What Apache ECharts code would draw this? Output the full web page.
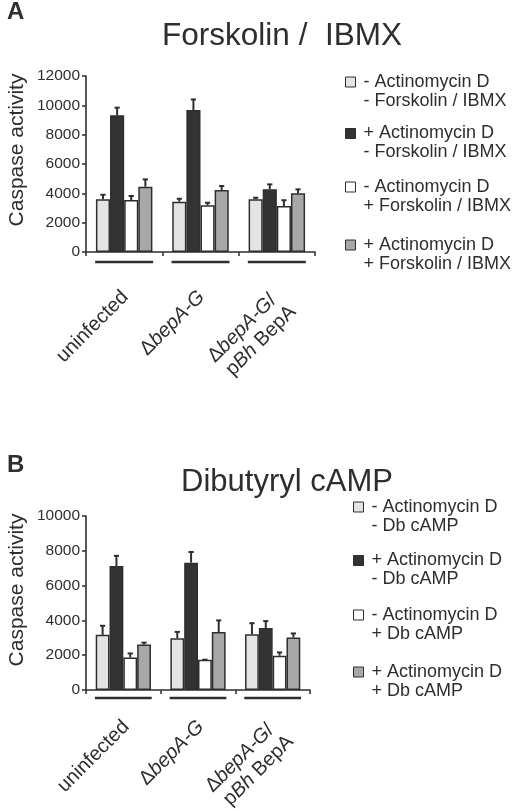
<!DOCTYPE html>
<html>
<head>
<meta charset="utf-8">
<script src="https://cdn.jsdelivr.net/npm/echarts@6/dist/echarts.min.js"></script>
<style>
html,body{margin:0;padding:0;background:#fff;}
#chart{width:515px;height:809px;}
</style>
</head>
<body>
<div id="chart"></div>
<script>
// ---- data ----
const categories = ['uninfected', 'ΔbepA-G', 'ΔbepA-G/ pBh BepA'];

const namesA = [
  '- Actinomycin D\n- Forskolin / IBMX',
  '+ Actinomycin D\n- Forskolin / IBMX',
  '- Actinomycin D\n+ Forskolin / IBMX',
  '+ Actinomycin D\n+ Forskolin / IBMX'
];
const namesB = [
  '- Actinomycin D\n- Db cAMP',
  '+ Actinomycin D\n- Db cAMP',
  '- Actinomycin D\n+ Db cAMP',
  '+ Actinomycin D\n+ Db cAMP'
];

// Panel A (Forskolin / IBMX)
const A_noActD_noFsk = [3600, 3430, 3600];
const A_actD_noFsk   = [9320, 9680, 4280];
const A_noActD_fsk   = [3540, 3180, 3140];
const A_actD_fsk     = [4450, 4230, 4000];
const A_err_noActD_noFsk = [300, 200, 100];
const A_err_actD_noFsk   = [520, 720, 330];
const A_err_noActD_fsk   = [280, 180, 390];
const A_err_actD_fsk     = [500, 270, 270];

// Panel B (Dibutyryl cAMP)
const B_noActD_noDb = [3170, 2980, 3210];
const B_actD_noDb   = [7130, 7320, 3560];
const B_noActD_db   = [1870, 1740, 1970];
const B_actD_db     = [2610, 3330, 3020];
const B_err_noActD_noDb = [520, 360, 630];
const B_err_actD_noDb   = [580, 610, 400];
const B_err_noActD_db   = [230, 0, 190];
const B_err_actD_db     = [110, 670, 230];

const yTicksA = {max: 12000, interval: 2000};
const yTicksB = {max: 10000, interval: 2000};

// ---- styling ----
const FONT = 'Liberation Sans, Arial, Helvetica, sans-serif';
const INK = '#2e2e2e';
const fills = ['#e4e4e4', '#333333', '#ffffff', '#a8a8a8'];
const GAP = 0.26;

const valsA = [A_noActD_noFsk, A_actD_noFsk, A_noActD_fsk, A_actD_fsk];
const errsA = [A_err_noActD_noFsk, A_err_actD_noFsk, A_err_noActD_fsk, A_err_actD_fsk];
const valsB = [B_noActD_noDb, B_actD_noDb, B_noActD_db, B_actD_db];
const errsB = [B_err_noActD_noDb, B_err_actD_noDb, B_err_noActD_db, B_err_actD_db];

const rich = {
  n: {fontFamily: FONT, fontSize: 20, color: INK, lineHeight: 22},
  i: {fontFamily: FONT, fontSize: 20, color: INK, fontStyle: 'italic', lineHeight: 22},
  sp: {fontSize: 2, lineHeight: 20}
};
function catLabel(v, idx) {
  if (idx === 0) return '{n|uninfected}';
  if (idx === 1) return '{n|Δ}{i|bepA-G}';
  return '{sp| }\n{n|Δ}{i|bepA-G}{n|/ }\n{n|p}{i|Bh}{n| BepA}';
}

function xAxisFor(g, margin, padTop) {
  return {
    type: 'category', gridIndex: g, data: categories,
    axisLine: {lineStyle: {color: INK, width: 1.6}},
    axisTick: {show: true, length: 4, lineStyle: {color: INK, width: 1.5}},
    axisLabel: {
      interval: 0, rotate: 45, margin: margin, padding: [padTop, 0, 0, 0],
      formatter: catLabel, rich: rich, color: INK, fontSize: 20, fontFamily: FONT
    }
  };
}
function yAxisFor(g, t, shift) {
  return {
    type: 'value', gridIndex: g, min: 0, max: t.max, interval: t.interval,
    name: 'Caspase activity', nameLocation: 'middle', nameGap: 58, nameRotate: 90,
    nameTextStyle: {fontFamily: FONT, fontSize: 21, color: INK, padding: [0, 0, 0, shift]},
    axisLine: {show: true, lineStyle: {color: INK, width: 1.6}},
    axisTick: {show: true, length: 4, lineStyle: {color: INK, width: 1.5}},
    axisLabel: {fontFamily: FONT, fontSize: 15.5, color: INK, margin: 6,
      formatter: function (v) { return String(v); }},
    splitLine: {show: false}
  };
}

function barSeries(g, names, vals) {
  return vals.map((v, k) => ({
    name: names[k], type: 'bar', xAxisIndex: g, yAxisIndex: g,
    data: v, barGap: '0%', barCategoryGap: (GAP * 100) + '%',
    itemStyle: {color: fills[k], borderColor: INK, borderWidth: 1.5},
    z: 2
  }));
}
function errSeries(g, vals, errs) {
  return vals.map((v, k) => ({
    type: 'custom', xAxisIndex: g, yAxisIndex: g, silent: true, clip: false, z: 3,
    data: v.map((val, i) => [i, val, errs[k][i]]),
    renderItem: function (params, api) {
      const idx = api.value(0), val = api.value(1), e = api.value(2);
      const band = api.size([1, 0])[0];
      const bw = band * (1 - GAP) / 4;
      const c = api.coord([idx, val]);
      const t = api.coord([idx, val + e]);
      const x = c[0] + (k - 1.5) * bw;
      const st = {stroke: INK, lineWidth: 2};
      return {type: 'group', children: [
        {type: 'line', shape: {x1: x, y1: c[1], x2: x, y2: t[1]}, style: st},
        {type: 'line', shape: {x1: x - 2.6, y1: t[1], x2: x + 2.6, y2: t[1]}, style: st}
      ]};
    }
  }));
}
function underlineSeries(g, drop) {
  return {
    type: 'custom', xAxisIndex: g, yAxisIndex: g, silent: true, clip: false, z: 3,
    data: categories.map((c, i) => [i, 0]),
    renderItem: function (params, api) {
      const idx = api.value(0);
      const band = api.size([1, 0])[0];
      const c = api.coord([idx, 0]);
      return {type: 'line', shape: {x1: c[0] - 0.38 * band, y1: c[1] + drop, x2: c[0] + 0.38 * band, y2: c[1] + drop},
        style: {stroke: INK, lineWidth: 2.6}};
    }
  };
}
function legendItem(name, left, iconCenter) {
  return {
    data: [name], left: left, top: iconCenter - 28.5, padding: 0,
    icon: 'rect', itemWidth: 10, itemHeight: 10, selectedMode: false,
    itemStyle: {borderColor: INK, borderWidth: 1},
    formatter: function (n) { return ' \n' + n; },
    textStyle: {fontFamily: FONT, fontSize: 18, color: INK, lineHeight: 19, padding: [0, 0, 0, 3]}
  };
}

const legendCentersA = [82, 133.5, 187, 245];
const legendCentersB = [507, 560.5, 615, 672];

const option = {
  animation: false,
  backgroundColor: '#fff',
  title: [
    {text: 'A', left: 2, top: -5, textStyle: {fontFamily: FONT, fontSize: 24, fontWeight: 'bold', color: INK}},
    {text: 'Forskolin /  IBMX', left: 277, textAlign: 'center', top: 15, textStyle: {fontFamily: FONT, fontSize: 31.5, fontWeight: 'normal', color: INK}},
    {text: 'B', left: 2, top: 448, textStyle: {fontFamily: FONT, fontSize: 24, fontWeight: 'bold', color: INK}},
    {text: 'Dibutyryl cAMP', left: 282, textAlign: 'center', top: 462, textStyle: {fontFamily: FONT, fontSize: 31, fontWeight: 'normal', color: INK}}
  ],
  legend: namesA.map((n, k) => legendItem(n, 345, legendCentersA[k]))
    .concat(namesB.map((n, k) => legendItem(n, 353, legendCentersB[k]))),
  grid: [
    {left: 86, top: 76, width: 229, height: 176, containLabel: false, outerBoundsMode: 'none'},
    {left: 86, top: 516, width: 224, height: 174, containLabel: false, outerBoundsMode: 'none'}
  ],
  xAxis: [xAxisFor(0, 41, 3), xAxisFor(1, 31, 8)],
  yAxis: [yAxisFor(0, yTicksA, 28), yAxisFor(1, yTicksB, 26)],
  series: []
    .concat(barSeries(0, namesA, valsA))
    .concat(barSeries(1, namesB, valsB))
    .concat(errSeries(0, valsA, errsA))
    .concat(errSeries(1, valsB, errsB))
    .concat([underlineSeries(0, 10), underlineSeries(1, 8)])
};

const chart = echarts.init(document.getElementById('chart'), null, {renderer: 'canvas'});
chart.setOption(option);
</script>
</body>
</html>
